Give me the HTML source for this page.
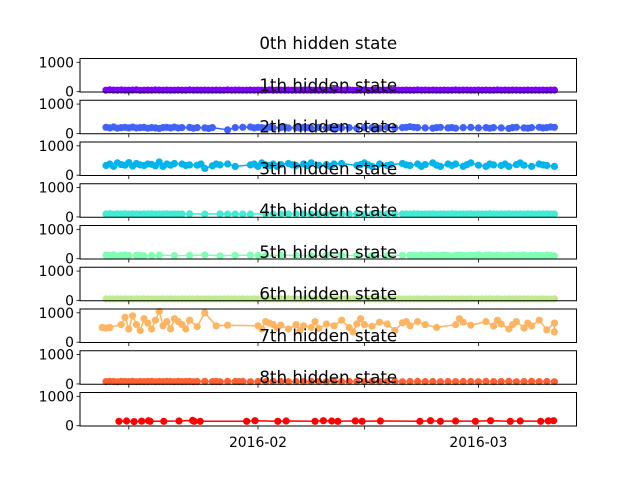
<!DOCTYPE html>
<html><head><meta charset="utf-8"><style>
html,body{margin:0;padding:0;background:#fff;}
svg{display:block;font-family:"DejaVu Sans","Liberation Sans",sans-serif;}
</style></head><body>
<svg id="chart" width="640" height="480" viewBox="0 0 640 480" xmlns="http://www.w3.org/2000/svg"></svg>
<script>
// day-of-year (Jan 1 = 0) x positions and values per hidden state
const days0 = [11,11.5,12,12.5,13,13.5,14,14.5,15,15.5,16,16.5,17,17.5,18,18.5,19,19.5,20,20.5,21,21.5,22,22.5,23,23.5,24,24.5,25,25.5,26,26.5,27,27.5,28,28.5,29,29.5,30,30.5,31,31.5,32,32.5,33,33.5,34,34.5,35,35.5,36,36.5,37,37.5,38,38.5,39,39.5,40,40.5,41,41.5,42,42.5,43,43.5,44,44.5,45,45.5,46,46.5,47,47.5,48,48.5,49,49.5,50,50.5,51,51.5,52,52.5,53,53.5,54,54.5,55,55.5,56,56.5,57,57.5,58,58.5,59,59.5,60,60.5,61,61.5,62,62.5,63,63.5,64,64.5,65,65.5,66,66.5,67,67.5,68,68.5,69,69.5,70];
const vals0 = [50,60,55,50,58,52,50,55,60,48,52,55,50,58,53,50,56,52,50,55,50,52,57,50,54,50,56,52,50,55,52,50,58,50,53,55,50,52,56,50,54,52,50,57,51,55,50,53,56,50,52,55,50,54,51,56,50,53,55,50,50,60,55,50,58,52,50,55,60,48,52,55,50,58,53,50,56,52,50,55,50,52,57,50,54,50,56,52,50,55,52,50,58,50,53,55,50,52,56,50,54,52,50,57,51,55,50,53,56,50,52,55,50,54,51,56,50,53,55];
const days1 = [11,11.5,12,12.5,13,13.5,14,14.5,15,15.5,16,16.5,17,17.5,18,18.5,19,19.5,20,20.5,21,22,22.5,23,24,24.5,25,27,28,29,30,30.5,31,31.5,32,32.5,33,34,34.5,35,36,36.5,37,37.5,38,39,40,40.5,41,41.5,42,43,44,45,46,46.5,47,48,49,50,50.5,51,51.5,52,53,54,54.5,55,56,56.5,57,58,59,60,61,61.5,62,63,64,64.5,65,66,66.5,67,68,68.5,69,69.5,70];
const vals1 = [210,190,220,180,200,210,190,215,185,200,205,180,200,190,170,200,210,190,215,185,200,205,180,200,190,170,200,120,200,210,220,190,210,200,180,210,190,200,215,185,200,190,210,200,180,205,190,200,170,210,190,200,180,200,195,175,180,205,190,200,210,230,210,200,190,180,200,210,190,200,180,200,205,190,200,180,200,190,170,200,210,190,180,200,210,190,200,220,210,230,210];
const days2 = [11,11.5,12,12.5,13,13.5,14,14.5,15,15.5,16,16.5,17,17.5,18,18.5,19,19.5,20,21,21.5,22,23,23.5,24,25,25.5,26,27,28,30,30.5,31,31.5,32,32.5,33,33.5,34,35,35.5,36,37,37.5,38,39,40,40.5,41,42,44,44.5,45,45.5,46,47,48,48.5,50,50.5,51,52,52.5,53,54,54.5,55,56,56.5,57,58,58.5,59,60,61,61.5,62,63,63.5,64,65,65.5,66,67,68,68.5,69,70];
const vals2 = [330,380,300,420,360,340,430,310,400,350,330,380,370,320,450,300,380,340,400,380,330,350,340,380,230,320,380,350,380,300,350,380,300,420,350,330,380,300,360,400,350,330,380,320,420,340,360,300,380,400,330,360,420,350,300,380,330,360,400,350,330,380,300,360,420,340,300,380,330,380,300,360,420,340,300,380,350,330,380,300,360,420,340,300,380,350,330,300,250];
const days3 = [11,11.5,12,12.5,13,13.5,14,14.5,15,15.5,16,16.5,17,17.5,18,18.5,19,19.5,20,20.5,21,22,24,26,27,28,29,30,32,33,34,35,36,37,38,39,40,41,42,43,44,45,46,47,48,49,50,50.5,51,51.5,52,52.5,53,53.5,54,54.5,55,55.5,56,56.5,57,57.5,58,58.5,59,59.5,60,60.5,61,61.5,62,62.5,63,63.5,64,64.5,65,65.5,66,66.5,67,67.5,68,68.5,69,69.5,70];
const vals3 = [100,110,95,105,100,108,98,104,100,96,102,100,105,98,102,100,106,96,102,100,98,104,100,105,98,102,100,96,104,100,98,102,106,100,98,104,100,96,102,100,105,98,102,100,104,98,100,102,96,104,100,98,102,100,104,98,100,102,96,104,100,98,102,100,104,98,100,102,96,104,100,98,102,100,104,98,100,102,96,104,100,98,102,100,104,98,100];
const days4 = [11,11.5,12,12.5,13,13.5,14,15,15.5,16,17,18,20,22,24,26,28,30,31,32,34,36,38,40,42,44,46,48,50,51,51.5,52,52.5,53,53.5,54,54.5,55,55.5,56,56.5,57,57.5,58,58.5,59,59.5,60,60.5,61,61.5,62,62.5,63,63.5,64,64.5,65,65.5,66,66.5,67,67.5,68,68.5,69,69.5,70];
const vals4 = [120,110,130,100,115,125,105,120,110,100,115,120,105,110,125,100,115,120,110,105,120,110,100,115,120,105,110,100,115,120,105,110,125,100,115,120,110,105,120,110,100,115,120,105,110,120,110,130,100,115,125,105,120,110,100,115,120,105,110,125,100,115,120,110,105,120,110,100];
const days5 = [11,11.5,12,12.5,13,13.5,14,14.5,15,15.5,16,16.5,17,17.5,18,18.5,19,19.5,20,20.5,21,21.5,22,22.5,23,23.5,24,24.5,25,25.5,26,26.5,27,27.5,28,28.5,29,29.5,30,30.5,31,31.5,32,32.5,33,33.5,34,34.5,35,35.5,36,36.5,37,37.5,38,38.5,39,39.5,40,40.5,41,41.5,42,42.5,43,43.5,44,44.5,45,45.5,46,46.5,47,47.5,48,48.5,49,49.5,50,50.5,51,51.5,52,52.5,53,53.5,54,54.5,55,55.5,56,56.5,57,57.5,58,58.5,59,59.5,60,60.5,61,61.5,62,62.5,63,63.5,64,64.5,65,65.5,66,66.5,67,67.5,68,68.5,69,69.5,70];
const vals5 = [50,52,50,55,50,52,51,50,53,50,52,50,51,54,50,52,50,53,50,51,52,50,54,50,52,51,50,53,50,52,50,51,54,50,52,50,53,51,50,52,50,54,50,52,51,50,53,50,52,50,51,54,50,52,50,53,51,50,52,50,50,52,50,55,50,52,51,50,53,50,52,50,51,54,50,52,50,53,50,51,52,50,54,50,52,51,50,53,50,52,50,51,54,50,52,50,53,51,50,52,50,54,50,52,51,50,53,50,52,50,51,54,50,52,50,53,51,50,52];
const days6 = [10.5,11,11.5,13,13.5,14,14.5,15,15.5,16,16.5,17,17.5,18,18.5,19,19.5,20,20.5,21,21.5,22,23,24,25.5,27,31,31.5,32,32.5,33,33.5,34,35,36,36.5,37,38,38.5,39,40,41,42,43,43.5,44,44.5,45,46,47,48,49,50,50.5,51,52,53,54.5,57,57.5,58,59,61,62,62.5,63,64,64.5,65,66,66.5,67,68,69,70,70];
const vals6 = [500,480,500,600,850,450,900,600,400,800,650,450,750,1050,560,700,450,800,700,600,450,750,530,1000,560,580,560,450,700,650,600,480,580,450,600,400,560,500,700,470,620,560,750,500,350,620,800,600,540,680,620,400,660,700,560,700,600,500,600,800,680,580,700,550,750,620,450,600,700,480,650,550,750,420,650,350];
const days7 = [11,11.5,12,12.5,13,13.5,14,14.5,15,15.5,16,16.5,17,17.5,18,18.5,19,19.5,20,20.5,21,21.5,22,22.5,23,24,25,25.5,26,27,28,28.5,29,30,31,32,33,34,35,36,37,38,39,40,41,42,43,44,45,46,47,48,49,50,51,52,53,54,55,56,57,58,59,60,61,62,63,64,65,66,67,68,69,70];
const vals7 = [80,90,85,75,88,82,80,86,78,84,80,85,90,78,84,80,86,82,78,88,80,84,90,76,82,86,80,84,78,88,82,80,86,78,84,80,88,82,76,84,80,86,82,78,88,80,84,82,78,86,80,84,88,78,82,86,80,84,78,82,80,84,82,78,86,80,84,88,78,82,86,80,84,78];
const days8 = [12.7,13.7,14.7,15.7,16.6,16.8,18.6,20.6,22.4,22.6,23.4,29.5,30.6,33.6,34.7,38.5,39.6,40.7,41.5,43.8,44.7,47.1,52.3,53.7,55,57,59.6,61.6,64.2,65.5,68.2,69.2,69.9];
const vals8 = [150,160,140,155,170,150,150,160,180,150,150,150,170,150,160,150,170,160,150,165,150,160,150,170,150,160,150,170,150,160,150,165,170];
const stateDays = [days0,days1,days2,days3,days4,days5,days6,days7,days8];
const stateVals = [vals0,vals1,vals2,vals3,vals4,vals5,vals6,vals7,vals8];
const colors = ["#8000ff","#4062fa","#00b5eb","#40ecd4","#80ffb4","#c0eb8d","#ffb462","#ff6232","#ff0000"];
const tickDays = [14,31,45,60];
const tickLabels = ["","2016-02","","2016-03"];
const yTicks = [0,1000];

const NS = "http://www.w3.org/2000/svg";
const svg = document.getElementById("chart");
const L = 80, R = 576.5, H = 33.5, TOP0 = 58.5, PITCH = 41.75;
const YMIN = -10, YMAX = 1130;
function xs(d){ return 258 + (d - 31) * 7.6; }
function mk(tag, attrs){ const e = document.createElementNS(NS, tag); for (const k in attrs) e.setAttribute(k, attrs[k]); svg.appendChild(e); return e; }

for (let i = 0; i < 9; i++) {
  const top = TOP0 + i * PITCH, bot = top + H;
  const ys = v => bot - (v - YMIN) / (YMAX - YMIN) * H;
  const g = document.createElementNS(NS, "g");
  
  
  svg.appendChild(g);
  const add = (tag, attrs) => { const e = document.createElementNS(NS, tag); for (const k in attrs) e.setAttribute(k, attrs[k]); g.appendChild(e); return e; };
  const d = stateDays[i], v = stateVals[i];
  const pts = d.map((dd, j) => xs(dd).toFixed(1) + "," + ys(v[j]).toFixed(1)).join(" ");
  const line = add("polyline", {points: pts, fill: "none", stroke: colors[i], "stroke-width": 1.5});
  
  
  for (let j = 0; j < d.length; j++) {
    const c = add("circle", {cx: xs(d[j]).toFixed(1), cy: ys(v[j]).toFixed(1), r: 3.6, fill: colors[i]});
    
    
  }
  const fr = add("rect", {x: L, y: top, width: R - L, height: H, fill: "none", stroke: "#000", "stroke-width": 1});
  
  
  for (const t of yTicks) {
    const y = ys(t);
    const tk = add("line", {x1: L - 3.5, x2: L, y1: y, y2: y, stroke: "#000", "stroke-width": 0.8});
    
    
    const tx = add("text", {x: L - 6, y: y + 5, "text-anchor": "end", "font-size": 13.9, fill: "#000"});
    tx.textContent = String(t);
    
    
  }
  tickDays.forEach((td, k) => {
    const x = xs(td);
    const tk = add("line", {x1: x, x2: x, y1: bot, y2: bot + 3.5, stroke: "#000", "stroke-width": 0.8});
    
    
    if (i === 8 && tickLabels[k]) {
      const tx = add("text", {x: x, y: bot + 21, "text-anchor": "middle", "font-size": 13.9, fill: "#000"});
      tx.textContent = tickLabels[k];
      
      
    }
  });
}
for (let i = 0; i < 9; i++) {
  const top = TOP0 + i * PITCH;
  const t = mk("text", {x: (L + R) / 2, y: top - 9.5, "text-anchor": "middle", "font-size": 16.7, fill: "#000"});
  t.textContent = i + "th hidden state";
  
  
}
</script>
</body></html>
